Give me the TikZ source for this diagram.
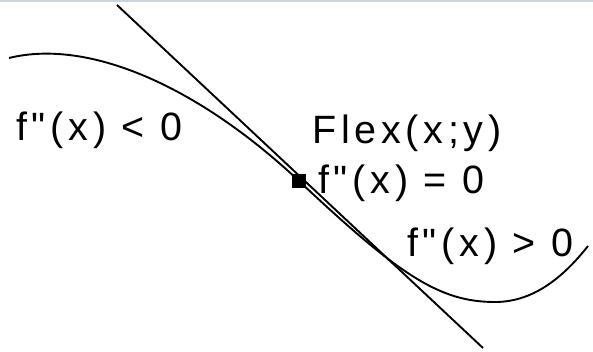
\documentclass[tikz,border=0pt]{standalone}
\usepackage{fontspec}
\setmainfont{Liberation Sans}
\newfontfamily\lblfont[LetterSpace=12]{Liberation Sans}
\usepackage{tikz}
\usetikzlibrary{positioning}
\usepackage{xcolor}
\definecolor{frameblue}{RGB}{200,212,222}

\begin{document}
\begin{tikzpicture}[x=1pt, y=-1pt,
    curve/.style={black, line width=1.9pt},
    tang/.style={black, line width=1.9pt},
    lbl/.style={anchor=base west, inner sep=0pt, font=\lblfont\fontsize{39.5}{47}\selectfont},
    flexpt/.style={rectangle, fill=black, minimum size=14pt, inner sep=0pt}]

    \useasboundingbox (0,0) rectangle (593,351);
    \draw[frameblue, line width=1.5pt] (0,0.75) -- (593,0.75);

    % Points on the curve
    \coordinate (c0) at (9,58);
    \coordinate (c1) at (495,302);
    \coordinate (c2) at (588,246);
    \node[flexpt] (flex) at (299,181) {};
    % Tangent ends
    \coordinate (t1) at (117,5);
    \coordinate (t2) at (483,348);

    % Curve
    \draw[curve] (c0) .. controls (90,38) and (200,88) .. (flex.center)
        .. controls (400,276) and (440,302) .. (c1)
        .. controls (535,302) and (565,275) .. (c2);
    % Tangent
    \draw[tang] (t1) -- (t2);

    \node[lbl] (neg) at (16,140) {f"(x) < 0};
    \node[lbl] (name) at (312,143) {Flex(x;y)};
    \node[lbl] (zero) at (318,193) {f"(x) = 0};
    \node[lbl] (pos) at (407,256) {f"(x) > 0};
\end{tikzpicture}
\end{document}
